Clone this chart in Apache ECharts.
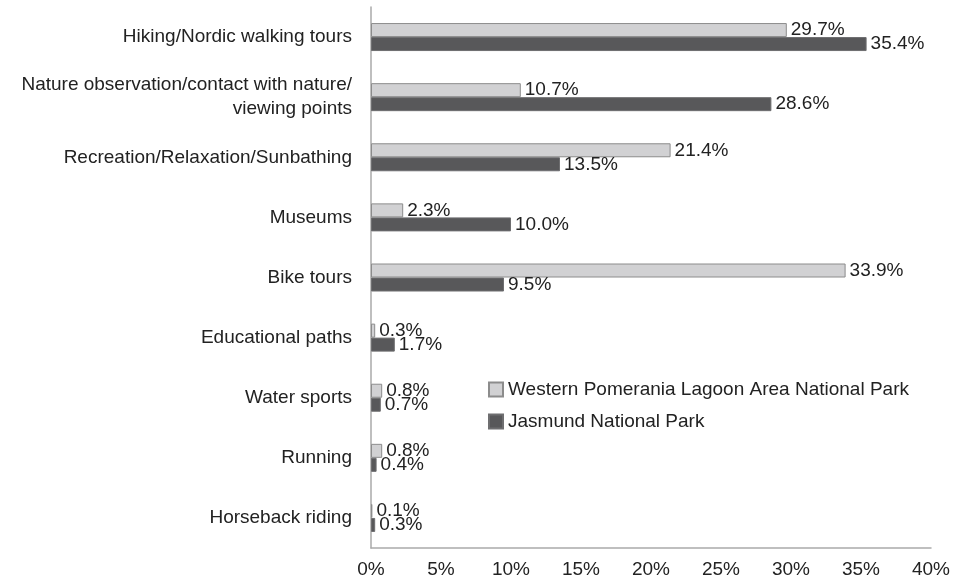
<!DOCTYPE html>
<html>
<head>
<meta charset="utf-8">
<script src="https://cdn.jsdelivr.net/npm/echarts@6/dist/echarts.min.js"></script>
<style>
  html, body { margin: 0; padding: 0; background: #fff; }
  #chart { width: 962px; height: 581px; }
</style>
</head>
<body>
<div id="chart"></div>
<script>
const categories = [
  'Hiking/Nordic walking tours',
  'Nature observation/contact with nature/\nviewing points',
  'Recreation/Relaxation/Sunbathing',
  'Museums',
  'Bike tours',
  'Educational paths',
  'Water sports',
  'Running',
  'Horseback riding'
]
const seriesNames = ['Western Pomerania Lagoon Area National Park', 'Jasmund National Park']
const westernPomerania = [29.7, 10.7, 21.4, 2.3, 33.9, 0.3, 0.8, 0.8, 0.1]
const jasmund = [35.4, 28.6, 13.5, 10.0, 9.5, 1.7, 0.7, 0.4, 0.3]
const xTicks = { min: 0, max: 40, interval: 5 }

const font = 'Liberation Sans, Arial, sans-serif'
const fs = 19
const chart = echarts.init(document.getElementById('chart'))

const label = {
  show: true,
  position: 'right',
  distance: 4,
  color: '#222',
  fontSize: fs,
  fontFamily: font,
  formatter: p => p.value.toFixed(1) + '%'
}

chart.setOption({
  animation: false,
  grid: { left: 371, right: 31, top: 7, bottom: 33, containLabel: false },
  legend: {
    orient: 'vertical',
    left: 483,
    top: 375,
    itemWidth: 14,
    itemHeight: 14,
    itemGap: 13,
    icon: 'rect',
    textStyle: { fontSize: fs, color: '#222', fontFamily: font },
    data: seriesNames
  },
  xAxis: {
    type: 'value',
    min: xTicks.min,
    max: xTicks.max,
    interval: xTicks.interval,
    axisLine: { show: true, lineStyle: { color: '#aaa', width: 1.5 } },
    axisTick: { show: false },
    splitLine: { show: false },
    axisLabel: { formatter: '{value}%', color: '#222', fontSize: fs, fontFamily: font, margin: 12 }
  },
  yAxis: {
    type: 'category',
    inverse: true,
    data: categories,
    axisLine: { show: true, lineStyle: { color: '#aaa', width: 1.5 } },
    axisTick: { show: false },
    axisLabel: { color: '#222', fontSize: fs, fontFamily: font, margin: 19, align: 'right', lineHeight: 24 }
  },
  series: [
    {
      name: seriesNames[0],
      type: 'bar',
      data: westernPomerania,
      barWidth: 14,
      barGap: '0%',
      itemStyle: { color: '#d1d1d3', borderColor: '#8c8c8c', borderWidth: 1 },
      label: label
    },
    {
      name: seriesNames[1],
      type: 'bar',
      data: jasmund,
      barWidth: 14,
      itemStyle: { color: '#58585a', borderColor: '#6e6e70', borderWidth: 1 },
      label: label
    }
  ]
})
window.addEventListener('resize', () => chart.resize())
</script>
</body>
</html>
